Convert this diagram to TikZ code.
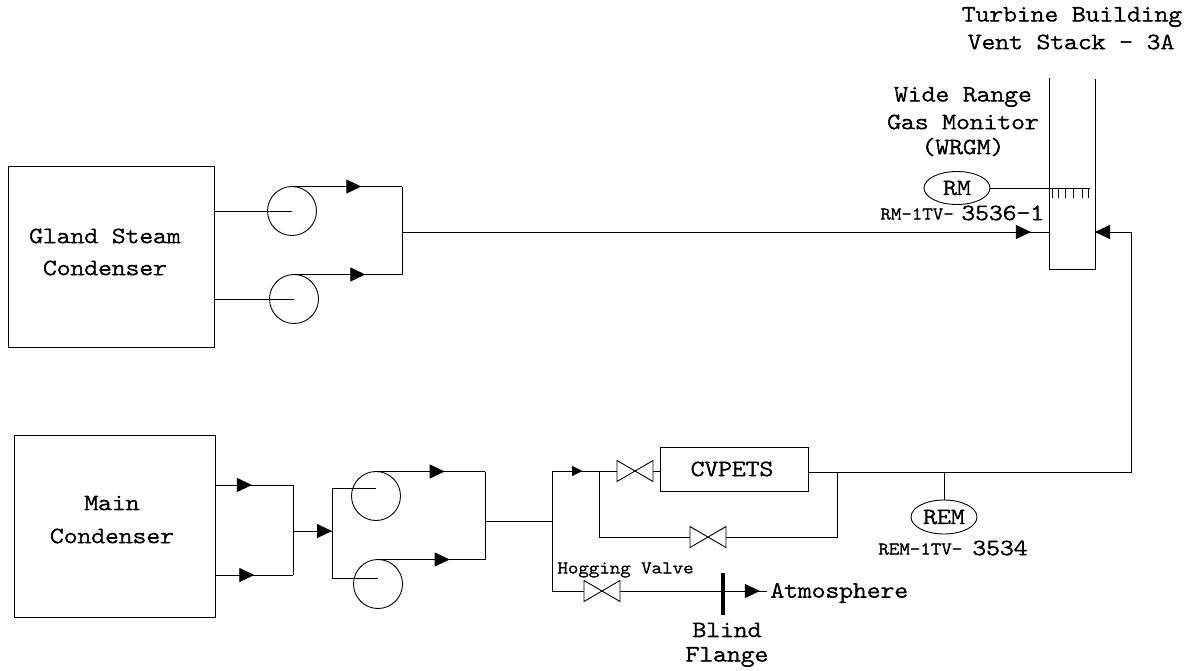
\documentclass[tikz,border=0pt]{standalone}
\usepackage{fontspec}
\setmonofont[FakeStretch=1.14,FakeBold=2.6]{Latin Modern Mono Light}
\usepackage{tikz}
\usetikzlibrary{calc,shapes.geometric,arrows.meta,decorations.markings}

\begin{document}
\begin{tikzpicture}[x=1pt,y=-1pt,line width=.9pt,
    flow/.style={decoration={markings,
        mark=at position #1 with {\arrow{Triangle[length=15pt,width=14pt]}}},
        postaction={decorate}},
    smallflow/.style={decoration={markings,
        mark=at position #1 with {\arrow{Triangle[length=10pt,width=10pt]}}},
        postaction={decorate}},
    txt/.style={font=\ttfamily\fontsize{23}{26}\selectfont,inner sep=0pt,align=center},
    small/.style={font=\ttfamily\fontsize{17.5}{20}\selectfont,inner sep=0pt},
    vessel/.style={rectangle,draw,inner sep=0pt,outer sep=0pt},
    pump/.style={circle,draw,minimum size=49pt,inner sep=0pt,outer sep=0pt},
    monitor/.style={ellipse,draw,minimum width=66pt,minimum height=33pt,inner sep=0pt,outer sep=0pt,
        font=\ttfamily\fontsize{23}{26}\selectfont},
    valve/.pic={\draw[fill=white] (-18,-10.5) -- (18,10.5) -- (18,-10.5) -- (-18,10.5) -- cycle;}]

    \useasboundingbox (0,0) rectangle (1192,670);

    % condensers
    \node[vessel,minimum width=206pt,minimum height=181pt] (G) at (111,256.5) {};
    \node[vessel,minimum width=201pt,minimum height=182pt] (M) at (115,526) {};
    \node[txt] at (105,236) {Gland Steam};
    \node[txt] at (105,268) {Condenser};
    \node[txt] at (112,503) {Main};
    \node[txt] at (112,536) {Condenser};

    % gland steam side
    \node[pump] (P1) at (292,211) {};
    \node[pump] (P2) at (294,299) {};
    \coordinate (J1) at (402,186.5);
    \coordinate (J2) at (402,274.5);
    \coordinate (J3) at (402,232);
    \draw (G.east |- P1) -- (P1.center);
    \draw (G.east |- P2) -- (P2.center);
    \draw[flow=0.63] (P1.north) -- (J1);
    \draw[flow=0.66] (P2.north) -- (J2);
    \draw (J1) -- (J2);

    % stack
    \coordinate (S1) at (1049,78);
    \coordinate (S2) at (1049,269);
    \coordinate (S3) at (1095,269);
    \coordinate (S4) at (1095,79);
    \draw (S1) -- (S2) -- (S3) -- (S4);
    \draw[flow=0.972] (J3) -- (J3 -| S1);
    \node[monitor] (RM) at (957,188) {RM};
    \coordinate (T) at (1090,188);
    \draw (RM.east) -- (T);
    \foreach \x in {1052,1058,1065,1073,1082,1088}
        \draw[line width=.8pt] (\x,188) -- (\x,198);

    % main condenser side
    \coordinate (K1) at (293,485);
    \coordinate (K2) at (293,575);
    \coordinate (K3) at (293,531);
    \coordinate (K4) at (332,531);
    \coordinate (K5) at (332,488);
    \coordinate (K6) at (332,578);
    \node[pump] (P3) at (376,496) {};
    \node[pump] (P4) at (378,584) {};
    \coordinate (L1) at (485,471.5);
    \coordinate (L2) at (485,559.5);
    \coordinate (L3) at (485,521);
    \coordinate (L4) at (552,521);
    \coordinate (L5) at (552,471);
    \coordinate (L6) at (552,591);
    \draw[flow=0.47] (M.east |- K1) -- (K1);
    \draw[flow=0.5] (M.east |- K2) -- (K2);
    \draw (K1) -- (K2);
    \draw[flow=1] (K3) -- (K4);
    \draw (K5) -- (K6);
    \draw (K5) -- (K5 -| P3.center);
    \draw (K6) -- (K6 -| P4.center);
    \draw[flow=0.63] (P3.north) -- (L1);
    \draw[flow=0.67] (P4.north) -- (L2);
    \draw (L1) -- (L2);
    \draw (L3) -- (L4);
    \draw (L5) -- (L6);

    % cvpets and bypass
    \node[vessel,minimum width=148pt,minimum height=44pt] (C) at (734,469) {};
    \node[txt] at (732,469) {CVPETS};
    \draw[smallflow=0.28] (L5) -- (C.west |- L5);
    \coordinate (B1) at (599,471);
    \coordinate (B2) at (599,537);
    \coordinate (B3) at (837,537);
    \coordinate (B4) at (837,472);
    \coordinate (R1) at (1131,472);
    \coordinate (R2) at (1131,232);
    \draw (B1) -- (B2) -- (B3) -- (B4);
    \draw (C.east |- B4) -- (R1) -- (R2);
    \draw[flow=1] (R2) -- (S4 |- R2);
    \pic at (635,471) {valve};
    \pic at (708,537) {valve};

    % rem
    \node[monitor,minimum height=34pt] (REM) at (944,517) {REM};
    \coordinate (R3) at (944,472);
    \draw (REM.north) -- (R3);

    % atmosphere line
    \coordinate (F1) at (723,573);
    \coordinate (F2) at (723,615);
    \coordinate (A) at (767,591);
    \draw[flow=0.967] (L6) -- (A);
    \pic at (602,591) {valve};
    \draw[line width=4pt] (F1) -- (F2);

    % labels
    \node[txt] at (1072,17) {Turbine Building};
    \node[txt] at (1071,42) {Vent Stack - 3A};
    \node[txt] at (963,97) {Wide Range};
    \node[txt] at (963,122) {Gas Monitor};
    \node[txt] at (963,147) {(WRGM)};
    \node[small,anchor=west] at (880,214) {RM-1TV-};
    \node[txt,anchor=west] at (961,213) {3536-1};
    \node[small,anchor=west] at (878,549) {REM-1TV-};
    \node[txt,anchor=west] at (972,548) {3534};
    \node[small,anchor=west] at (557,570) {Hogging Valve};
    \node[txt,anchor=west] at (770,593) {Atmosphere};
    \node[txt] at (727,630) {Blind};
    \node[txt] at (727,657) {Flange};
\end{tikzpicture}
\end{document}
